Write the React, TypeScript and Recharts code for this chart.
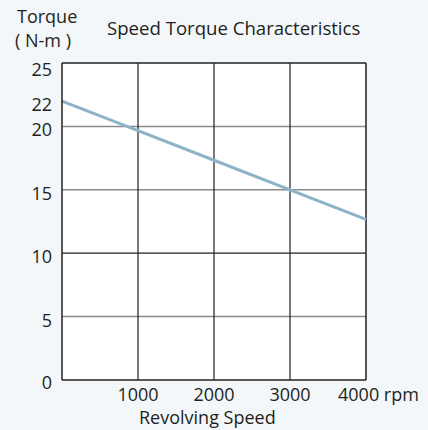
import { CartesianGrid, Line, LineChart, ReferenceLine, XAxis, YAxis } from "recharts";

const speeds = [0, 1000, 2000, 3000, 4000];
const torque = [22, 19.67, 17.33, 15, 12.67];
const xTicks = [1000, 2000, 3000, 4000];
const yTicks = [0, 5, 10, 15, 20, 22, 25];

const chartData = speeds.map((speed, i) => ({ speed, torque: torque[i] }));

const FONT = "'Open Sans', sans-serif";
const TEXT = "#231f20";

function XTick({ x, y, payload }: any) {
  const last = payload.value === 4000;
  return (
    <text
      x={last ? x - 28 : x}
      y={y}
      dy={21}
      textAnchor={last ? "start" : "middle"}
      fontFamily={FONT}
      fontSize={18}
      fill={TEXT}
    >
      {last ? `${payload.value} rpm` : payload.value}
    </text>
  );
}

function YTick({ x, y, payload }: any) {
  // labels sit a little under their lines, the end ones a bit more/less
  const dy = payload.value === 25 ? 13 : payload.value === 0 ? 9 : 10;
  return (
    <text x={x} y={y} dy={dy} textAnchor="end" fontFamily={FONT} fontSize={18} fill={TEXT}>
      {payload.value}
    </text>
  );
}

export default function App() {
  return (
    <div
      style={{
        position: "fixed",
        left: 0,
        top: 0,
        width: 428,
        height: 430,
        background: "#f3f7fa",
        fontFamily: FONT,
        color: TEXT,
        fontSize: 18,
      }}
    >
      <div style={{ position: "absolute", left: 17, top: 4, lineHeight: "24px" }}>
        <div>Torque</div>
        <div style={{ marginLeft: -2 }}>( N-m )</div>
      </div>
      <div style={{ position: "absolute", left: 107, top: 16, lineHeight: "24px", fontSize: 18.6 }}>
        Speed Torque Characteristics
      </div>
      <div style={{ position: "absolute", left: 139, top: 408, lineHeight: "18px" }}>
        Revolving Speed
      </div>
      <LineChart
        width={428}
        height={430}
        data={chartData}
        margin={{ top: 63, right: 62, bottom: 20, left: 12 }}
        style={{ position: "absolute", left: 0, top: 0 }}
      >
        <CartesianGrid
          fill="#ffffff"
          vertical={false}
          horizontalValues={[5, 15, 20]}
          stroke="#8a8a8a"
          strokeWidth={1.5}
        />
        <CartesianGrid
          horizontal={false}
          verticalValues={[1000, 2000, 3000]}
          stroke={TEXT}
          strokeWidth={1.2}
        />
        <ReferenceLine y={10} stroke={TEXT} strokeWidth={1.2} />
        <XAxis
          dataKey="speed"
          type="number"
          domain={[0, 4000]}
          ticks={xTicks}
          height={30}
          tickLine={false}
          tickSize={0}
          tickMargin={0}
          axisLine={{ stroke: TEXT, strokeWidth: 1.5 }}
          tick={<XTick />}
          interval={0}
        />
        <YAxis
          type="number"
          domain={[0, 25]}
          ticks={yTicks}
          width={50}
          tickLine={false}
          tickSize={0}
          tickMargin={10}
          axisLine={{ stroke: TEXT, strokeWidth: 1.5 }}
          tick={<YTick />}
          interval={0}
        />
        <ReferenceLine y={25} stroke={TEXT} strokeWidth={1.5} />
        <ReferenceLine x={4000} stroke={TEXT} strokeWidth={1.5} />
        <Line
          type="linear"
          dataKey="torque"
          stroke="#8db3c8"
          strokeWidth={3}
          dot={false}
          isAnimationActive={false}
        />
      </LineChart>
    </div>
  );
}
